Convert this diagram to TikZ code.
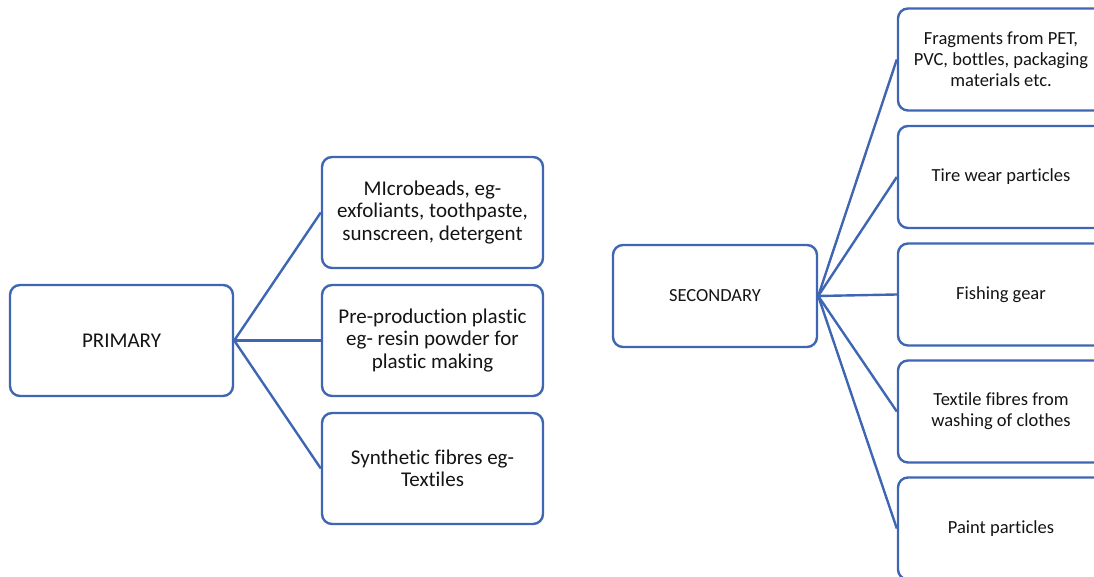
\documentclass[tikz,border=0pt]{standalone}
\usepackage{fontspec}
\setmainfont{Carlito}[Ligatures=NoCommon]
\definecolor{lineblue}{RGB}{62,102,178}
\definecolor{txt}{RGB}{20,20,20}
\tikzset{
  bigbox/.style={draw=lineblue, line width=2.4pt, rounded corners=10pt, fill=white,
    minimum width=223pt, minimum height=111pt, inner sep=0pt, align=center,
    text=txt, font=\fontsize{21}{22.5}\selectfont},
  smallbox/.style={draw=lineblue, line width=2.4pt, rounded corners=10pt, fill=white,
    minimum width=206pt, minimum height=102pt, inner sep=0pt, align=center,
    text=txt, font=\fontsize{18.5}{21}\selectfont},
  conn/.style={draw=lineblue, line width=2.4pt}
}
\begin{document}
\begin{tikzpicture}[x=1pt,y=1pt]
\useasboundingbox (0,0) rectangle (1094,577);
\clip (0,0) rectangle (1094,577);
% left group
\node[bigbox] (P) at (121.5,236.5) {PRIMARY};
\node[bigbox, minimum width=221pt] (m1) at (432.5,364.5) {MIcrobeads, eg-\\exfoliants, toothpaste,\\sunscreen, detergent};
\node[bigbox, minimum width=221pt] (m2) at (432.5,236.5) {Pre-production plastic\\eg- resin powder for\\plastic making};
\node[bigbox, minimum width=221pt] (m3) at (432.5,108.5) {Synthetic fibres eg-\\Textiles};
\draw[conn] (P.east) -- (m1.west);
\draw[conn] (P.east) -- (m2.west);
\draw[conn] (P.east) -- (m3.west);
% right group
\node[smallbox, minimum width=204pt] (S) at (715,281) {SECONDARY};
\node[smallbox] (s1) at (1001,517.5) {Fragments from PET,\\PVC, bottles, packaging\\materials etc.};
\node[smallbox] (s2) at (1001,400) {Tire wear particles};
\node[smallbox] (s3) at (1001,282.5) {Fishing gear};
\node[smallbox] (s4) at (1001,165.5) {Textile fibres from\\washing of clothes};
\node[smallbox] (s5) at (1001,48.5) {Paint particles};
\draw[conn] (S.east) -- (s1.west);
\draw[conn] (S.east) -- (s2.west);
\draw[conn] (S.east) -- (s3.west);
\draw[conn] (S.east) -- (s4.west);
\draw[conn] (S.east) -- (s5.west);
\end{tikzpicture}
\end{document}
